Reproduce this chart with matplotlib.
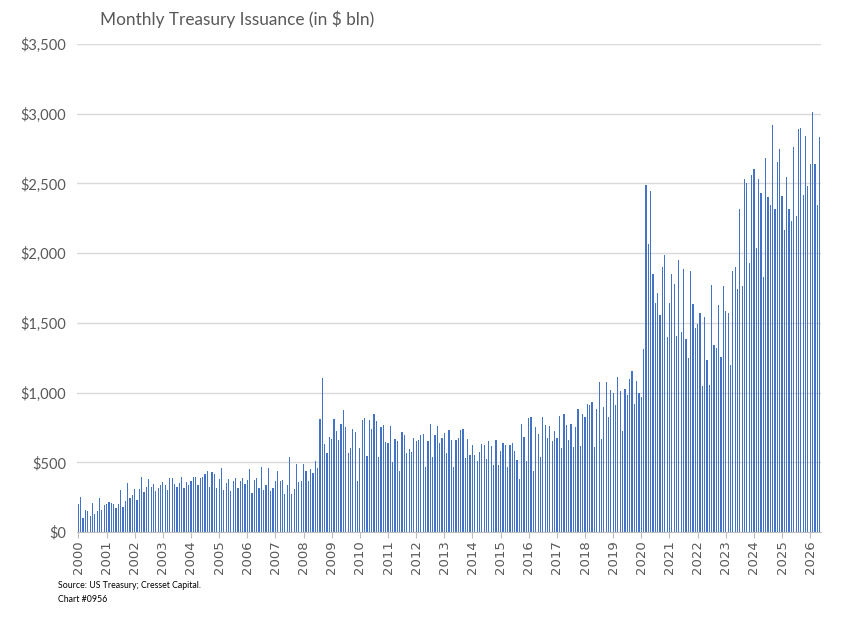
import matplotlib
matplotlib.use("Agg")
import matplotlib.pyplot as plt
from matplotlib.ticker import FuncFormatter
import numpy as np

# Monthly Treasury issuance ($ bln), Jan 2000 .. May 2026
issuance_2000 = [198, 249, 98, 158, 153, 115, 208, 129, 153, 242, 158, 196]
issuance_2001 = [203, 215, 206, 203, 170, 198, 301, 177, 225, 354, 246, 265]
issuance_2002 = [308, 230, 306, 394, 287, 325, 378, 320, 342, 296, 316, 335]
issuance_2003 = [356, 337, 304, 387, 387, 347, 325, 349, 397, 318, 359, 335]
issuance_2004 = [368, 397, 394, 337, 390, 397, 416, 437, 323, 430, 418, 313]
issuance_2005 = [378, 457, 304, 351, 383, 296, 366, 385, 313, 368, 385, 342]
issuance_2006 = [375, 452, 282, 371, 385, 313, 466, 299, 335, 459, 296, 318]
issuance_2007 = [368, 440, 366, 373, 273, 335, 538, 275, 311, 485, 356, 366]
issuance_2008 = [485, 437, 366, 454, 423, 507, 459, 808, 1102, 631, 569, 681]
issuance_2009 = [667, 813, 724, 662, 775, 875, 755, 564, 600, 739, 717, 368]
issuance_2010 = [600, 803, 818, 545, 803, 736, 844, 794, 536, 753, 767, 648]
issuance_2011 = [641, 763, 504, 665, 655, 437, 717, 696, 569, 593, 571, 672]
issuance_2012 = [653, 660, 696, 701, 464, 650, 772, 536, 693, 763, 636, 674]
issuance_2013 = [710, 569, 734, 660, 469, 660, 672, 729, 741, 528, 665, 550]
issuance_2014 = [622, 555, 509, 574, 631, 622, 521, 650, 617, 481, 660, 481]
issuance_2015 = [583, 638, 626, 464, 622, 636, 581, 514, 378, 772, 681, 509]
issuance_2016 = [815, 822, 440, 755, 703, 536, 822, 767, 672, 763, 653, 724]
issuance_2017 = [677, 832, 600, 849, 767, 660, 775, 607, 751, 882, 617, 849]
issuance_2018 = [827, 916, 911, 930, 612, 885, 1078, 665, 894, 1073, 822, 1018]
issuance_2019 = [999, 911, 1109, 1014, 724, 1023, 983, 1100, 1155, 918, 1083, 999]
issuance_2020 = [971, 1310, 2491, 2066, 2443, 1850, 1645, 1712, 1556, 1903, 1984, 1401]
issuance_2021 = [1640, 1850, 1779, 1408, 1951, 1432, 1889, 1382, 1250, 1870, 1635, 1463]
issuance_2022 = [1492, 1568, 1047, 1540, 1234, 1052, 1769, 1343, 1317, 1626, 1253, 1764]
issuance_2023 = [1585, 1568, 1200, 1872, 1903, 1740, 2317, 1764, 2529, 2501, 1929, 2563]
issuance_2024 = [2601, 2037, 2529, 2434, 1829, 2685, 2400, 2345, 2921, 2317, 2654, 2745]
issuance_2025 = [2410, 2166, 2544, 2317, 2233, 2761, 2264, 2888, 2898, 2417, 2840, 2484]
issuance_2026 = [2639, 3010, 2639, 2345, 2835]

year_labels = [str(y) for y in range(2000, 2027)]
yearly = [issuance_2000, issuance_2001, issuance_2002, issuance_2003, issuance_2004,
          issuance_2005, issuance_2006, issuance_2007, issuance_2008, issuance_2009,
          issuance_2010, issuance_2011, issuance_2012, issuance_2013, issuance_2014,
          issuance_2015, issuance_2016, issuance_2017, issuance_2018, issuance_2019,
          issuance_2020, issuance_2021, issuance_2022, issuance_2023, issuance_2024,
          issuance_2025, issuance_2026]

values = np.concatenate([np.asarray(v, dtype=float) for v in yearly])
x = np.arange(len(values))
year_starts = np.cumsum([0] + [len(v) for v in yearly[:-1]])

W, H = 852, 619
fig = plt.figure(figsize=(W / 100, H / 100), dpi=100)
ax = fig.add_axes([77 / W, 1 - 532 / H, (821 - 77) / W, (532 - 44) / H])

ax.bar(x, values, width=0.52, color="#4472C4", linewidth=0, zorder=2)
ax.set_ylim(0, 3500)
ax.set_xlim(-0.6, len(values) - 0.4)

ax.set_yticks(np.arange(0, 3501, 500))
ax.yaxis.set_major_formatter(FuncFormatter(lambda v, p: f"${v:,.0f}"))
ax.grid(axis="y", color="#D9D9D9", linewidth=1, zorder=0)
ax.set_axisbelow(True)
for s in ["top", "right", "left"]:
    ax.spines[s].set_visible(False)
ax.spines["bottom"].set_color("#BFBFBF")
ax.spines["bottom"].set_linewidth(0.8)

ax.set_xticks(year_starts)
ax.set_xticklabels(year_labels, rotation=90)
ax.tick_params(axis="y", length=0, pad=8, labelsize=10.5, labelcolor="#595959")
ax.tick_params(axis="x", length=4, width=0.8, color="#BFBFBF", pad=2,
               labelsize=9.5, labelcolor="#595959")
for lab in ax.get_yticklabels():
    lab.set_fontfamily("Lato")
for lab in ax.get_xticklabels():
    lab.set_fontfamily("DejaVu Sans")

fig.text(100 / W, 1 - 19 / H, "Monthly Treasury Issuance (in $ bln)",
         fontsize=12.4, color="#595959", family="Lato", va="center", ha="left")
fig.text(58 / W, 1 - 586 / H, "Source: US Treasury; Cresset Capital.",
         fontsize=6.3, color="#000000", family="Lato", va="center", ha="left")
fig.text(58 / W, 1 - 600 / H, "Chart #0956",
         fontsize=6.3, color="#000000", family="Lato", va="center", ha="left")

fig.savefig("out.png", dpi=100)
